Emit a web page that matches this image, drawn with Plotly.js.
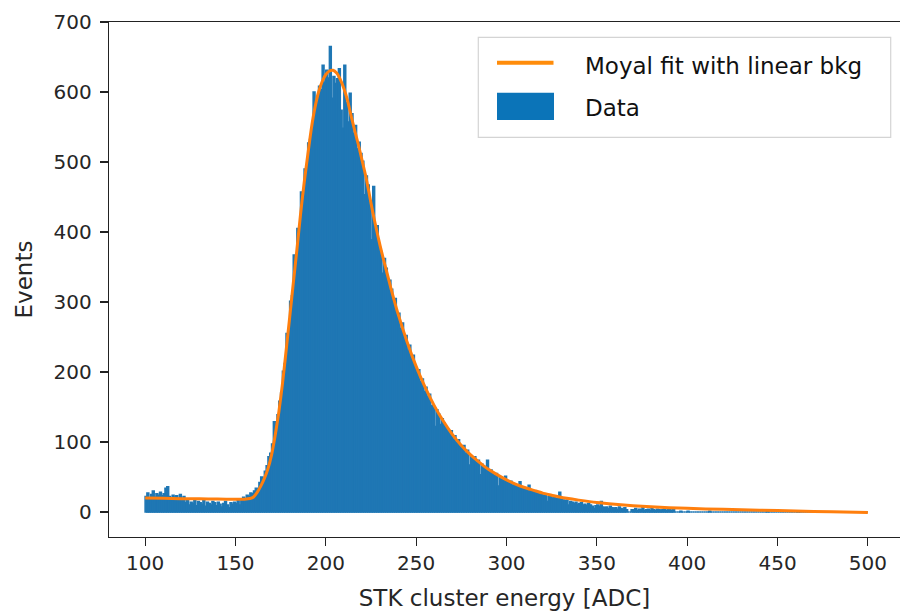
<!DOCTYPE html>
<html>
<head>
<meta charset="utf-8">
<script src="https://cdn.plot.ly/plotly-3.0.1.min.js"></script>
<style>html,body{margin:0;padding:0;background:#fff;}#chart{width:900px;height:611px;}</style>
</head>
<body>
<div id="chart"></div>
<script>
// Histogram: bins of width 1 starting at 100 (ADC)
const binStart = 100;
const binWidth = 1;
const counts = [
  22, 27, 19, 25, 30, 21, 26, 24, 28, 23,
  26, 34, 36, 22, 18, 24, 21, 23, 19, 25,
  17, 22, 13, 16, 10, 14, 12, 17, 9, 15,
  13, 11, 16, 8, 14, 12, 10, 15, 13, 9,
  14, 11, 7, 12, 15, 10, 6, 13, 11, 14,
  12, 16, 10, 18, 21, 17, 24, 22, 27, 26,
  30, 34, 31, 42, 50, 47, 58, 66, 79, 84,
  97, 129, 118, 139, 158, 170, 201, 212, 255, 259,
  301, 309, 367, 358, 405, 403, 457, 452, 490, 493,
  527, 532, 548, 600, 577, 589, 608, 603, 638, 614,
  631, 620, 665, 591, 622, 612, 619, 633, 574, 548,
  638, 585, 557, 598, 569, 541, 552, 519, 528, 512,
  501, 453, 480, 467, 441, 389, 465, 405, 409, 380,
  372, 341, 362, 348, 329, 331, 318, 300, 305, 279,
  284, 262, 270, 251, 252, 231, 238, 220, 224, 207,
  199, 203, 186, 190, 172, 178, 165, 168, 152, 150,
  122, 146, 140, 125, 133, 127, 121, 118, 114, 116,
  104, 109, 99, 103, 94, 92, 95, 84, 88, 67,
  80, 76, 79, 71, 74, 53, 68, 65, 62, 74,
  58, 60, 55, 52, 55, 37, 49, 47, 45, 51,
  43, 42, 44, 38, 40, 37, 36, 43, 34, 35,
  32, 33, 38, 30, 31, 28, 29, 26, 27, 25,
  24, 25, 15, 22, 23, 20, 21, 19, 20, 28,
  18, 17, 16, 17, 10, 15, 14, 12, 14, 11,
  12, 13, 10, 11, 9, 12, 10, 8, 5, 9,
  10, 8, 15, 7, 6, 7, 5, 8, 6, 5,
  6, 4, 7, 5, 4, 6, 3, 0, 0, 3,
  3, 5, 2, 4, 3, 6, 2, 3, 4, 2,
  5, 3, 2, 4, 3, 2, 3, 5, 2, 3,
  4, 2, 3, 0, 0, 0, 1, 0, 0, 0,
  1, 0, 0, 0, 0, 0, 0, 0, 0, 0,
  0, 0, 1, 0, 0, 0, 0, 0, 0, 0,
  0, 0, 0, 0, 0, 0, 0, 0, 0, 0,
  0, 0, 0, 0, 0, 0, 0, 0, 0, 0,
  0, 0, 0, 0, 1, 0, 0, 0, 0, 0,
  0, 0, 0, 0, 0, 0, 0, 0, 0, 0,
  0, 1, 0, 0, 0, 0, 0, 0, 0, 0,
  0, 0, 0, 0, 0, 0, 0, 0, 0, 0,
  0, 0, 0, 0, 0, 0, 0, 0, 0, 0,
  0, 0, 0, 0, 0, 0, 0, 0, 0, 0
];

// Fit curve (Moyal + linear background)
const fitX = [100, 110, 120, 130, 140, 150, 155, 158, 160, 162, 164, 166, 168, 170, 172, 174, 176, 178, 180,
  182, 184, 186, 188, 190, 192, 194, 196, 198, 200, 202, 204, 206, 208, 210, 212, 214, 216, 218, 220,
  222, 224, 226, 228, 230, 232, 234, 236, 238, 240, 245, 250, 255, 260, 265, 270, 275, 280, 285, 290,
  295, 300, 305, 310, 315, 320, 325, 330, 340, 350, 360, 370, 380, 390, 400, 420, 440, 460, 480, 500];
const fitY = [20, 19.5, 19, 18.8, 18.5, 18.3, 18.4, 19.2, 21.5, 28, 37, 48, 62, 82, 110, 143, 183, 230, 278,
  327, 375, 425, 470, 510, 548, 578, 600, 615, 625, 630, 631, 627, 618, 605, 588, 566, 545, 525, 503,
  481, 455, 428, 404, 381, 360, 340, 320, 301, 283, 243, 208, 178, 152, 130, 111, 95, 82, 71, 61,
  53, 46, 40, 35, 31, 27, 24, 21, 17, 13.5, 11, 9, 7.5, 6.2, 5.2, 3.8, 2.6, 1.4, 0.3, -0.8];

const xTitle = 'STK cluster energy [ADC]';
const yTitle = 'Events';
const legendLabels = ['Moyal fit with linear bkg', 'Data'];

const blue = '#1f77b4';
const orange = '#ff7f0e';
const font = 'DejaVu Sans, sans-serif';

const traces = [
  {
    type: 'bar',
    name: legendLabels[1],
    x0: binStart + binWidth / 2,
    dx: binWidth,
    y: counts,
    width: binWidth,
    marker: {color: blue, line: {color: blue, width: 1.6}},
    showlegend: false,
    hoverinfo: 'skip'
  },
  {
    type: 'scatter',
    mode: 'lines',
    name: legendLabels[0],
    x: fitX,
    y: fitY,
    line: {color: orange, width: 3, shape: 'spline', smoothing: 0.6},
    showlegend: false,
    hoverinfo: 'skip'
  }
];

// paper-coordinate helpers for the hand-drawn legend
const L = 109, T = 22, W = 791, H = 515;
const px = v => (v - L) / W;
const py = v => (T + H - v) / H;

const layout = {
  width: 900,
  height: 611,
  margin: {l: L, r: 900 - L - W, t: T, b: 611 - T - H, pad: 0},
  paper_bgcolor: '#ffffff',
  plot_bgcolor: '#ffffff',
  bargap: 0,
  font: {family: font, size: 20, color: '#262626'},
  xaxis: {
    range: [80, 80 + W / 1.8068],
    tick0: 100, dtick: 50,
    ticks: 'outside', ticklen: 8, tickwidth: 1.2, tickcolor: '#222',
    showline: true, linecolor: '#222', linewidth: 1.3, mirror: true,
    showgrid: false, zeroline: false,
    tickfont: {family: font, size: 20, color: '#262626'},
    title: {text: xTitle, font: {family: font, size: 23, color: '#262626'}, standoff: 17},
    automargin: false
  },
  yaxis: {
    range: [-35.7, 700],
    tick0: 0, dtick: 100,
    ticks: 'outside', ticklen: 8, tickwidth: 1.2, tickcolor: '#222',
    ticklabelstandoff: 4,
    showline: true, linecolor: '#222', linewidth: 1.3, mirror: false,
    showgrid: false, zeroline: false,
    tickfont: {family: font, size: 20, color: '#262626'},
    title: {text: yTitle, font: {family: font, size: 23, color: '#262626'}, standoff: 14},
    automargin: false
  },
  shapes: [
    {type: 'rect', xref: 'paper', yref: 'paper', x0: px(478.3), x1: px(890.7), y0: py(137.3), y1: py(37.3),
      line: {color: '#d4d4d4', width: 1.2}, fillcolor: 'rgba(255,255,255,0.85)', layer: 'above'},
    {type: 'line', xref: 'paper', yref: 'paper', x0: px(497), x1: px(553.5), y0: py(62.7), y1: py(62.7),
      line: {color: '#ff8c0a', width: 4}, layer: 'above'},
    {type: 'rect', xref: 'paper', yref: 'paper', x0: px(497), x1: px(554), y0: py(120), y1: py(92.7),
      line: {width: 0}, fillcolor: '#0b74b8', layer: 'above'}
  ],
  annotations: [
    {xref: 'paper', yref: 'paper', x: px(583), y: py(66), xanchor: 'left', yanchor: 'middle', showarrow: false,
      text: legendLabels[0], font: {family: font, size: 23, color: '#111'}},
    {xref: 'paper', yref: 'paper', x: px(583), y: py(108), xanchor: 'left', yanchor: 'middle', showarrow: false,
      text: legendLabels[1], font: {family: font, size: 23, color: '#111'}}
  ]
};

Plotly.newPlot('chart', traces, layout, {staticPlot: true, displayModeBar: false});
</script>
</body>
</html>
